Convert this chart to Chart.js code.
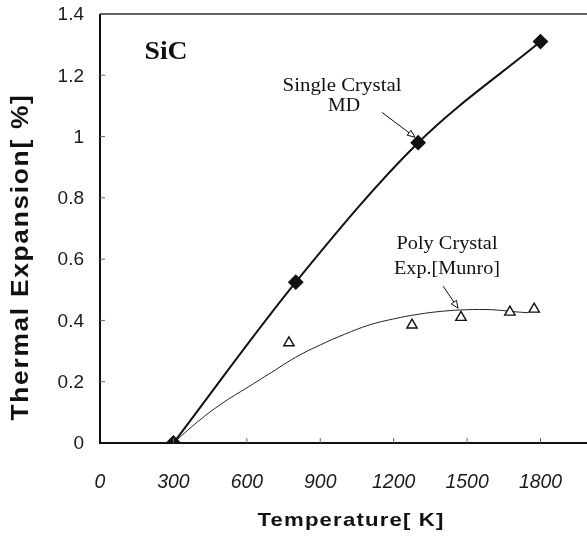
<!DOCTYPE html>
<html>
<head>
<meta charset="utf-8">
<script src="https://cdn.jsdelivr.net/npm/chart.js@4"></script>
<style>
  html, body { margin: 0; padding: 0; background: #fff; }
  #wrap { width: 587px; height: 536px; position: relative; }
</style>
</head>
<body>
<div id="wrap"><canvas id="chart" width="587" height="536"></canvas></div>
<script>
// Single crystal MD results
const mdTemp = [300, 800, 1300, 1800];
const mdExp = [0, 0.525, 0.98, 1.31];

// Poly crystal experiment (Munro)
const expTemp = [300, 772, 1275, 1475, 1675, 1774];
const expVal = [0, 0.327, 0.385, 0.41, 0.427, 0.437];

// Fitted trend through the experiment
const fitTemp = [300, 400, 500, 600, 700, 800, 900, 1000, 1100, 1200, 1300, 1400, 1500, 1600, 1700, 1750];
const fitVal = [0, 0.07, 0.13, 0.18, 0.23, 0.28, 0.32, 0.355, 0.385, 0.405, 0.42, 0.43, 0.435, 0.435, 0.428, 0.425];

const xTicks = [0, 300, 600, 900, 1200, 1500, 1800];
const yTicks = [0, 0.2, 0.4, 0.6, 0.8, 1, 1.2, 1.4];

const pts = (xs, ys) => xs.map((x, i) => ({ x: x, y: ys[i] }));

// text squeezed/stretched to a given width, centred on (x, y)
function fitText(ctx, text, x, y, font, width, spacing) {
  ctx.save();
  ctx.font = font;
  ctx.letterSpacing = (spacing || 0) + "px";
  const w = ctx.measureText(text).width;
  ctx.translate(x, y);
  ctx.scale(width / w, 1);
  ctx.textAlign = "center";
  ctx.textBaseline = "middle";
  ctx.fillText(text, 0, 0);
  ctx.restore();
}

function arrow(ctx, x1, y1, x2, y2) {
  const ang = Math.atan2(y2 - y1, x2 - x1);
  ctx.strokeStyle = "#111";
  ctx.lineWidth = 1;
  ctx.beginPath();
  ctx.moveTo(x1, y1);
  ctx.lineTo(x2, y2);
  ctx.stroke();
  // open arrow head
  const len = 8, w = 0.4;
  ctx.fillStyle = "#fff";
  ctx.beginPath();
  ctx.moveTo(x2, y2);
  ctx.lineTo(x2 - len * Math.cos(ang - w), y2 - len * Math.sin(ang - w));
  ctx.lineTo(x2 - len * Math.cos(ang + w), y2 - len * Math.sin(ang + w));
  ctx.closePath();
  ctx.fill();
  ctx.stroke();
}

// axis lines, inner ticks, tick labels, titles and callouts
const decor = {
  id: "decor",
  afterDraw(chart) {
    const { ctx, chartArea: a, scales } = chart;
    const X = (v) => scales.x.getPixelForValue(v);
    const Y = (v) => scales.y.getPixelForValue(v);
    ctx.save();
    ctx.strokeStyle = "#111";

    // frame: left, bottom thick, top thin
    ctx.lineWidth = 2;
    ctx.beginPath();
    ctx.moveTo(a.left, a.top);
    ctx.lineTo(a.left, a.bottom);
    ctx.lineTo(a.right, a.bottom);
    ctx.stroke();
    ctx.lineWidth = 1.3;
    ctx.strokeStyle = "#333";
    ctx.beginPath();
    ctx.moveTo(a.left, a.top);
    ctx.lineTo(a.right, a.top);
    ctx.stroke();

    // small inward ticks
    ctx.lineWidth = 1;
    ctx.strokeStyle = "#666";
    yTicks.slice(1, -1).forEach((v) => {
      ctx.beginPath();
      ctx.moveTo(a.left, Y(v));
      ctx.lineTo(a.left + 5, Y(v));
      ctx.stroke();
    });
    xTicks.slice(1).forEach((v) => {
      ctx.beginPath();
      ctx.moveTo(X(v), a.bottom);
      ctx.lineTo(X(v), a.bottom - 5);
      ctx.stroke();
    });

    // tick labels
    ctx.fillStyle = "#1a1a1a";
    ctx.font = "19px 'Liberation Sans', Arial, sans-serif";
    ctx.textAlign = "right";
    ctx.textBaseline = "middle";
    yTicks.forEach((v) => ctx.fillText(String(v), a.left - 16, Y(v) + 1));
    xTicks.forEach((v) => {
      const s = String(v);
      fitText(ctx, s, X(v), a.bottom + 39, "italic 21px 'Liberation Sans', Arial, sans-serif", s.length * 10.8);
    });

    // axis titles
    ctx.fillStyle = "#111";
    fitText(ctx, "Temperature[ K]", 351, 521, "bold 19px 'Liberation Sans', Arial, sans-serif", 187, 1);
    ctx.save();
    ctx.translate(22, 257);
    ctx.rotate(-Math.PI / 2);
    fitText(ctx, "Thermal Expansion[ %]", 0, 0, "bold 23px 'Liberation Sans', Arial, sans-serif", 327, 1.5);
    ctx.restore();

    // SiC label
    fitText(ctx, "SiC", X(270), Y(1.275), "bold 25px 'Liberation Serif', 'Times New Roman', serif", 43);

    // callouts
    const serif = "18px 'Liberation Serif', 'Times New Roman', serif";
    fitText(ctx, "Single Crystal", X(989), Y(1.163), serif, 119);
    fitText(ctx, "MD", X(997), Y(1.099), serif, 32);
    fitText(ctx, "Poly Crystal", X(1418), Y(0.649), serif, 101);
    fitText(ctx, "Exp.[Munro]", X(1418), Y(0.566), serif, 106);

    arrow(ctx, X(1152), Y(1.079), X(1287), Y(0.998));
    arrow(ctx, X(1402), Y(0.512), X(1463), Y(0.44));
    ctx.restore();
  },
};

new Chart(document.getElementById("chart"), {
  type: "scatter",
  data: {
    datasets: [
      {
        label: "Exp. fit",
        data: pts(fitTemp, fitVal),
        showLine: true,
        borderColor: "#222",
        borderWidth: 1,
        pointRadius: 0,
        tension: 0.4,
        order: 3,
      },
      {
        label: "Single Crystal MD",
        data: pts(mdTemp, mdExp),
        showLine: true,
        borderColor: "#111",
        borderWidth: 2,
        cubicInterpolationMode: "monotone",
        pointStyle: "rectRot",
        pointRadius: 6.5,
        pointBackgroundColor: "#111",
        pointBorderColor: "#111",
        order: 1,
      },
      {
        label: "Poly Crystal Exp.[Munro]",
        data: pts(expTemp, expVal),
        showLine: false,
        pointStyle: "triangle",
        pointRadius: 6,
        pointBorderWidth: 1.4,
        pointBackgroundColor: "#fff",
        pointBorderColor: "#111",
        order: 2,
      },
    ],
  },
  options: {
    responsive: false,
    animation: false,
    layout: { autoPadding: false, padding: { top: 14, right: 0, left: 0, bottom: 0 } },
    plugins: { legend: { display: false }, tooltip: { enabled: false } },
    scales: {
      x: {
        type: "linear",
        min: 0,
        max: 1990,
        afterFit: (s) => { s.height = 93; },
        grid: { display: false, drawTicks: false },
        border: { display: false },
        ticks: { display: false },
      },
      y: {
        type: "linear",
        min: 0,
        max: 1.4,
        afterFit: (s) => { s.width = 100; },
        grid: { display: false, drawTicks: false },
        border: { display: false },
        ticks: { display: false },
      },
    },
  },
  plugins: [decor],
});
</script>
</body>
</html>
